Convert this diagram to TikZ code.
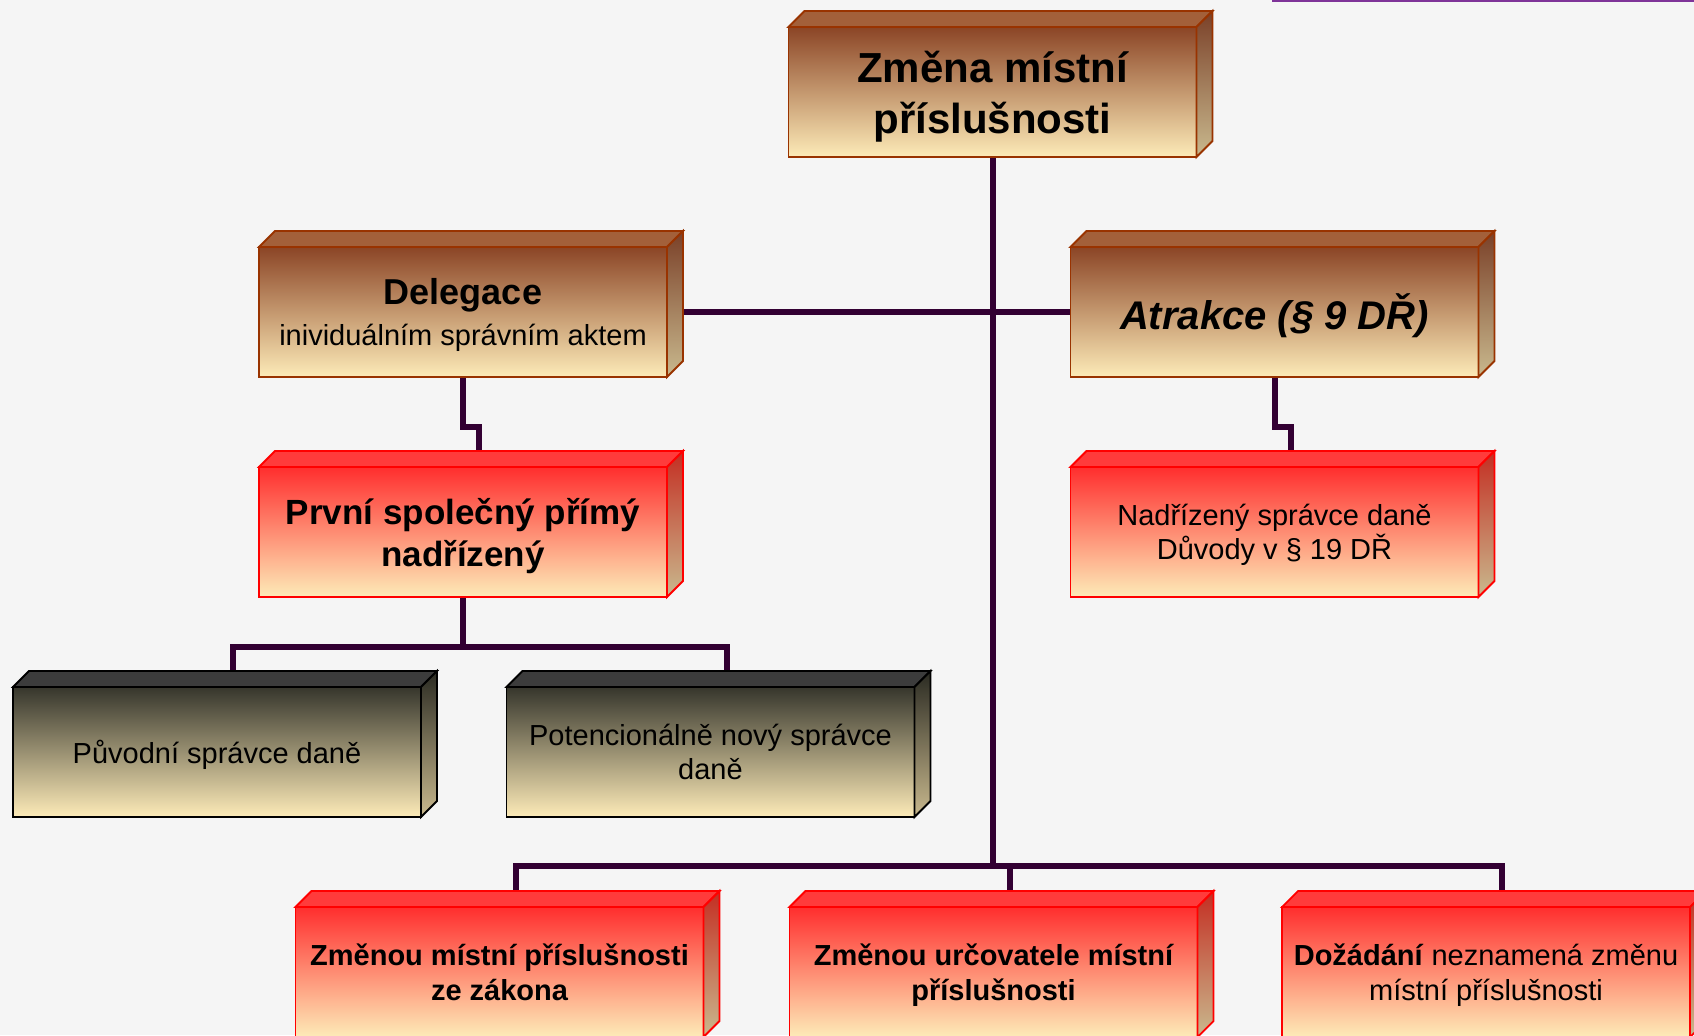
\documentclass[tikz,border=0pt]{standalone}
\usepackage{fontspec}
\setmainfont{Liberation Sans}
\usetikzlibrary{calc,backgrounds}

\definecolor{bgGrey}{HTML}{F5F5F5}
\definecolor{linkPurple}{HTML}{330033}
\definecolor{rulePurple}{HTML}{7F3499}
\definecolor{cream}{HTML}{FDEBB8}
\definecolor{sideTan}{HTML}{C9B98E}
\definecolor{darkBrown}{HTML}{8B4526}
\definecolor{topBrown}{HTML}{A3603A}
\definecolor{sideBrown}{HTML}{7A4028}
\definecolor{edgeBrown}{HTML}{993300}
\definecolor{darkRed}{HTML}{FF2E2E}
\definecolor{topRed}{HTML}{FF3B3B}
\definecolor{sideRed}{HTML}{C42E22}
\definecolor{edgeRed}{HTML}{FF0000}
\definecolor{darkGrey}{HTML}{36362C}
\definecolor{topGrey}{HTML}{3C3C3C}
\definecolor{sideGrey}{HTML}{2A2A22}
\definecolor{edgeGrey}{HTML}{000000}

\tikzset{block/.style={draw=edge#1, line width=0.9pt, top color=dark#1, bottom color=cream,
    minimum width=204pt, minimum height=65pt, inner sep=0pt, outer sep=0pt, align=center,
    text depth=0pt, font=\fontsize{14.5}{17.25}\selectfont},
link/.style={draw=linkPurple, line width=3pt}}

\begin{document}
\begin{tikzpicture}[x=0.5pt, y=-0.5pt]

    \begin{scope}[on background layer]
    \fill[bgGrey] (0,0) rectangle (1694,1035);
    \end{scope}
    \useasboundingbox (0,0) rectangle (1694,1035);
    \clip (0,0) rectangle (1694,1035);
    \draw[rulePurple, line width=1pt] (1272,1) -- (1694,1);

    \node[block=Brown, font=\fontsize{21}{25.5}\selectfont\bfseries] (zmena) at (992.5,92) {Změna místní\\příslušnosti};

    \node[block=Brown] (deleg) at (463,312) {{\fontsize{18}{20}\selectfont\bfseries Delegace}\\[3pt]inividuálním správním aktem};
    \node[block=Brown, font=\fontsize{20}{24}\selectfont\bfseries\itshape] (atrak) at (1274.5,312) {Atrakce (§ 9 DŘ)};

    \node[block=Red, font=\fontsize{17.5}{21}\selectfont\bfseries] (prvni) at (463,532) {První společný přímý\\nadřízený};
    \node[block=Red] (nadriz) at (1274.5,532) {Nadřízený správce daně\\Důvody v § 19 DŘ};

    \node[block=Grey] (puvod) at (217,752) {Původní správce daně};
    \node[block=Grey] (potenc) at (710.5,752) {Potencionálně nový správce\\daně};

    \node[block=Red, font=\fontsize{14.5}{17.25}\selectfont\bfseries] (zakon) at (499.5,972) {Změnou místní příslušnosti\\ze zákona};
    \node[block=Red, font=\fontsize{14.5}{17.25}\selectfont\bfseries] (urcov) at (993.5,972) {Změnou určovatele místní\\příslušnosti};
    \node[block=Red] (dozad) at (1486,972) {\textbf{Dožádání} neznamená změnu\\místní příslušnosti};

    % top and side faces
    \foreach \n/\k in {zmena/Brown, deleg/Brown, atrak/Brown, prvni/Red, nadriz/Red,
                       puvod/Grey, potenc/Grey, zakon/Red, urcov/Red, dozad/Red}{
    \filldraw[draw=edge\k, line width=0.9pt, fill=top\k] (\n.north west) -- ++(16,-16)
        -- ([shift={(16,-16)}]\n.north east) -- (\n.north east) -- cycle;
    \draw[edge\k, line width=0.9pt, top color=side\k, bottom color=sideTan] (\n.north east)
        -- ++(16,-16) -- ([shift={(16,-16)}]\n.south east) -- (\n.south east) -- cycle;
    \coordinate (\n-back) at ([shift={(16,-16)}]\n.north);
    }

    \coordinate (fork) at (463,647);
    \coordinate (bus) at (992.5,866);

    \begin{scope}[on background layer]
    \draw[link] (zmena.south) -- (bus);
    \draw[link] (deleg.east) -- (atrak.west);
    \draw[link] (deleg.south) -- ++(0,50) -| (prvni-back);
    \draw[link] (atrak.south) -- ++(0,50) -| (nadriz-back);
    \draw[link] (prvni.south) -- (fork);
    \draw[link] (puvod-back) |- (fork) -| (potenc-back);
    \draw[link] (zakon-back) |- (bus) -| (dozad-back);
    \draw[link] (urcov-back) -- (urcov-back |- bus);
    \end{scope}

  \end{tikzpicture}
\end{document}
